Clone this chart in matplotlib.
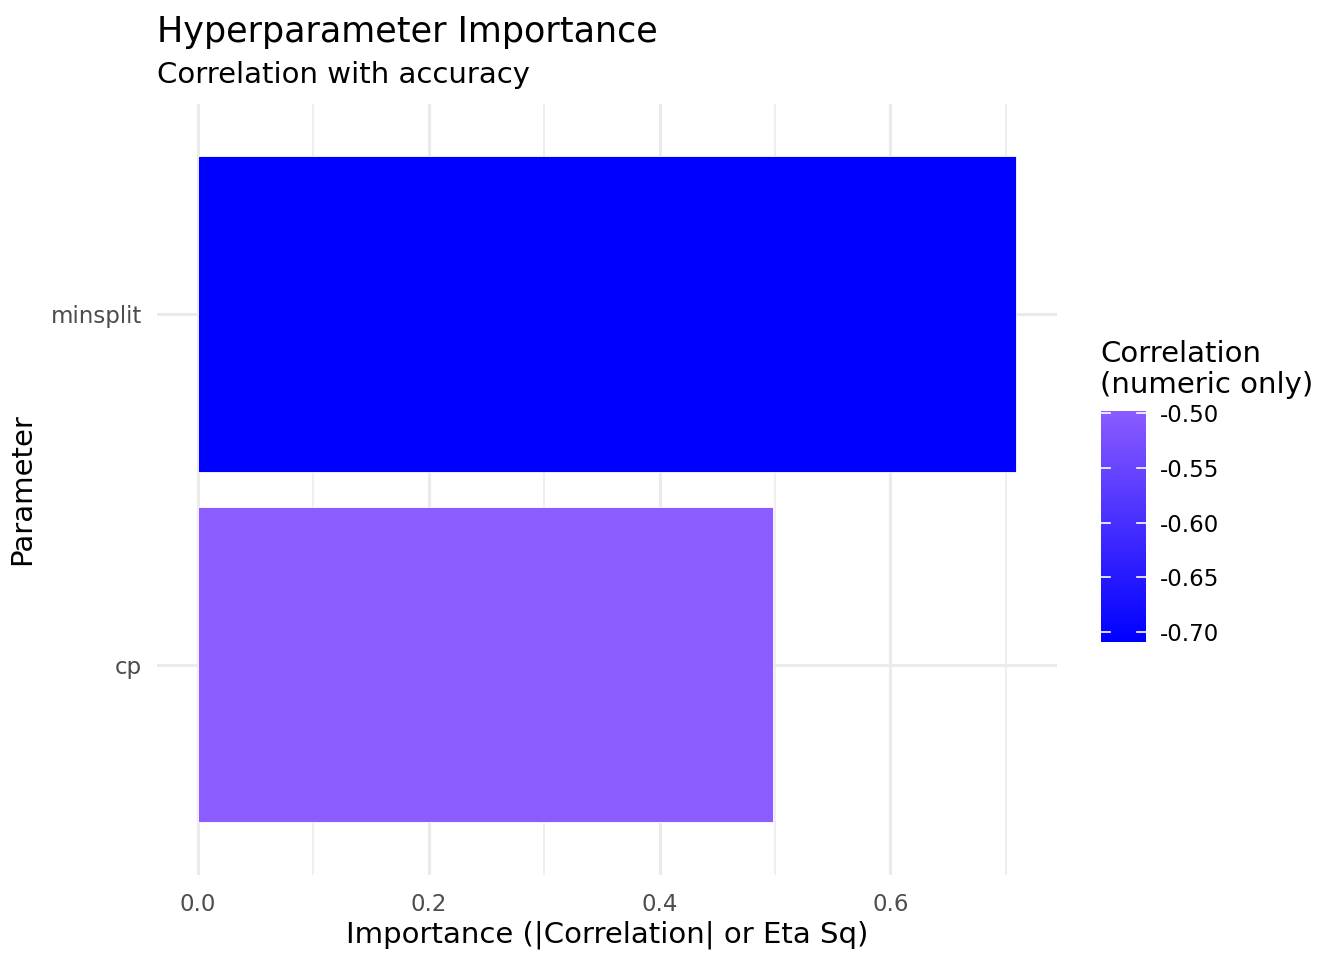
import numpy as np
import matplotlib
matplotlib.use("Agg")
import matplotlib.pyplot as plt
from matplotlib.colors import LinearSegmentedColormap, Normalize

params = ["cp", "minsplit"]
correlation = [-0.498, -0.709]
importance = [abs(c) for c in correlation]

cbar_ticks = [-0.70, -0.65, -0.60, -0.55, -0.50]
x_major = [0.0, 0.2, 0.4, 0.6]
x_minor = [0.1, 0.3, 0.5, 0.7]

plt.rcParams["font.family"] = "DejaVu Sans"

cmap = LinearSegmentedColormap.from_list("corr", ["#0000FF", "#8B5CFF"])
norm = Normalize(vmin=min(correlation), vmax=max(correlation))

fig = plt.figure(figsize=(13.44, 9.6), dpi=100)
ax = fig.add_axes([157 / 1344, 1 - 875 / 960, 900 / 1344, 771.5 / 960])

y = np.arange(len(params))
ax.barh(y, importance, height=0.9, color=cmap(norm(correlation)),
        edgecolor="white", linewidth=0.6, zorder=3)

xmax = max(importance)
ax.set_xlim(-0.05 * xmax, 1.05 * xmax)
ax.set_ylim(-0.6, len(params) - 0.4)

ax.set_xticks(x_major)
ax.set_xticklabels([f"{v:.1f}" for v in x_major])
ax.set_xticks(x_minor, minor=True)
ax.set_yticks(y)
ax.set_yticklabels(params)
ax.grid(True, which="major", color="#EBEBEB", linewidth=2.2, zorder=0)
ax.grid(True, which="minor", axis="x", color="#EBEBEB", linewidth=1.1, zorder=0)
ax.tick_params(which="both", length=0, labelsize=16.5, labelcolor="#4D4D4D")
ax.tick_params(axis="x", pad=13)
ax.tick_params(axis="y", pad=11)
for s in ax.spines.values():
    s.set_visible(False)
ax.set_axisbelow(True)

ax.set_xlabel("Importance (|Correlation| or Eta Sq)", fontsize=21, labelpad=3)
ax.set_ylabel("Parameter", fontsize=21, labelpad=10)

fig.text(157 / 1344, 1 - 42 / 960, "Hyperparameter Importance", fontsize=25.2,
         ha="left", va="baseline")
fig.text(157 / 1344, 1 - 83 / 960, "Correlation with accuracy", fontsize=21,
         ha="left", va="baseline")

# colour bar legend
cax = fig.add_axes([1101 / 1344, 1 - 642 / 960, 45 / 1344, 231 / 960])
grad = np.linspace(norm.vmin, norm.vmax, 256).reshape(-1, 1)
cax.imshow(grad, aspect="auto", cmap=cmap, norm=norm, origin="lower",
           extent=[0, 1, norm.vmin, norm.vmax])
cax.set_xlim(0, 1)
cax.set_ylim(norm.vmin, norm.vmax)
for t in cbar_ticks:
    cax.plot([0, 0.2], [t, t], color="white", lw=1.2)
    cax.plot([0.8, 1], [t, t], color="white", lw=1.2)
cax.set_xticks([])
cax.yaxis.tick_right()
cax.set_yticks(cbar_ticks)
cax.set_yticklabels([f"{t:.2f}" for t in cbar_ticks])
cax.tick_params(length=0, labelsize=16.5, pad=10)
for s in cax.spines.values():
    s.set_visible(False)
fig.text(1100 / 1344, 1 - 362 / 960, "Correlation", fontsize=21,
         ha="left", va="baseline")
fig.text(1100 / 1344, 1 - 393 / 960, "(numeric only)", fontsize=21,
         ha="left", va="baseline")

fig.savefig("out.png", dpi=100, facecolor="white")
